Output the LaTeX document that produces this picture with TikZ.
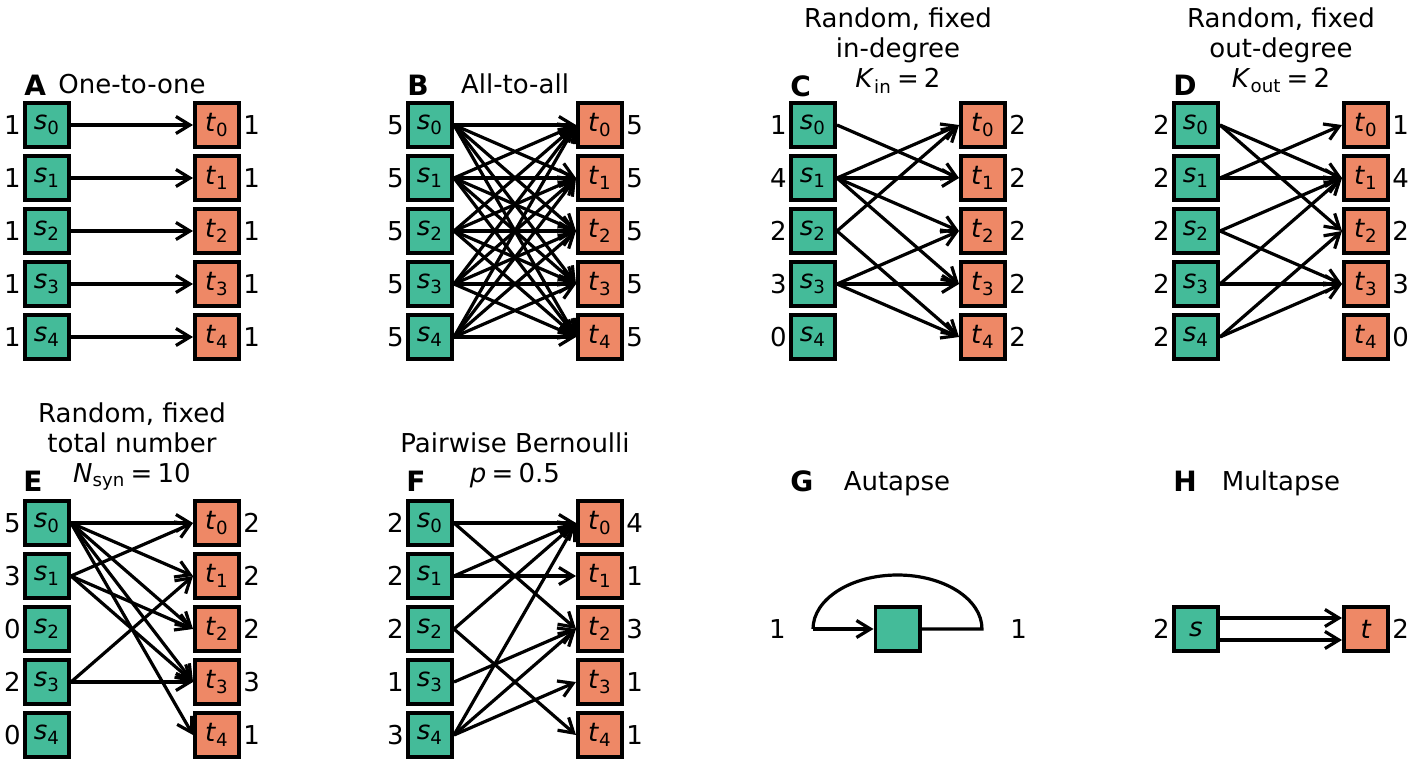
\documentclass[tikz,border=0pt]{standalone}
\usepackage{fontspec}
\setmainfont{DejaVu Sans}
\usetikzlibrary{arrows.meta,positioning}

\definecolor{srcgreen}{HTML}{44BB99}
\definecolor{tgtorange}{HTML}{EE8866}

\newcommand{\labelfont}{\fontsize{13pt}{15pt}\selectfont}
\newcommand{\eqsp}{\hspace{0.2em}=\hspace{0.2em}}

\tikzset{
  pop/.style={draw, line width=1.8pt, minimum size=22.2pt, inner sep=0pt},
  src/.style={pop, fill=srcgreen},
  tgt/.style={pop, fill=tgtorange},
  syn/.style={line width=1.6pt, -{Straight Barb[length=7pt,width=8.5pt]}},
  tally/.style={inner sep=1pt},
  letter/.style={font=\fontsize{14pt}{15pt}\selectfont\bfseries, anchor=base west, inner sep=0pt},
  title/.style={align=center, anchor=south, inner sep=0pt, text depth=0pt},
}

% sources and targets of one panel: #1 name, #2 x of sources, #3 y of first row,
% #4 out-degrees, #5 in-degrees
\newcommand{\popcolumns}[5]{%
  \foreach \n [count=\i from 0] in {#4} {
    \node[src] (s#1\i) at (#2, #3+53*\i) {\textit{s}\textsubscript{\i}};
    \node[tally, left=0pt of s#1\i] (ns#1\i) {\n};
  }
  \foreach \n [count=\i from 0] in {#5} {
    \node[tgt] (t#1\i) at (#2+170, #3+53*\i) {\textit{t}\textsubscript{\i}};
    \node[tally, right=0pt of t#1\i] (nt#1\i) {\n};
  }
}

\begin{document}
\begin{tikzpicture}[x=0.5pt, y=-0.5pt, font=\labelfont]
    \useasboundingbox (0,0) rectangle (1421,765);

    % A: one-to-one
    \node[letter] (letA) at (24,96) {A};
    \node[title] (titleA) at (132,94) {One-to-one};
    \popcolumns{A}{47}{125}{1,1,1,1,1}{1,1,1,1,1}
    \foreach \k in {0,...,4}
        \draw[syn] (sA\k.east) -- (tA\k.west);

    % B: all-to-all
    \node[letter] (letB) at (407,96) {B};
    \node[title] (titleB) at (515,94) {All-to-all};
    \popcolumns{B}{430}{125}{5,5,5,5,5}{5,5,5,5,5}
    \foreach \a in {0,...,4}
        \foreach \b in {0,...,4}
            \draw[syn] (sB\a.east) -- (tB\b.west);

    % C: fixed in-degree
    \node[letter] (letC) at (790,97) {C};
    \node[title] (titleC) at (898,88) {Random, fixed\\in-degree\\\textit{K}\textsubscript{in}\eqsp 2};
    \popcolumns{C}{813}{125}{1,4,2,3,0}{2,2,2,2,2}
    \foreach \a/\b in {0/1, 1/0, 1/1, 1/2, 1/3, 2/0, 2/4, 3/2, 3/3, 3/4}
        \draw[syn] (sC\a.east) -- (tC\b.west);

    % D: fixed out-degree
    \node[letter] (letD) at (1173,96) {D};
    \node[title] (titleD) at (1281,88) {Random, fixed\\out-degree\\\textit{K}\textsubscript{out}\eqsp 2};
    \popcolumns{D}{1196}{125}{2,2,2,2,2}{1,4,2,3,0}
    \foreach \a/\b in {0/1, 0/2, 1/0, 1/1, 2/1, 2/3, 3/1, 3/3, 4/2, 4/3}
        \draw[syn] (sD\a.east) -- (tD\b.west);

    % E: fixed total number
    \node[letter] (letE) at (23,491) {E};
    \node[title] (titleE) at (132,483) {Random, fixed\\total number\\\textit{N}\textsubscript{syn}\eqsp 10};
    \popcolumns{E}{47}{523}{5,3,0,2,0}{2,2,2,3,1}
    \foreach \a/\b in {0/0, 0/1, 0/2, 0/3, 0/4, 1/0, 1/2, 1/3, 3/1, 3/3}
        \draw[syn] (sE\a.east) -- (tE\b.west);

    % F: pairwise Bernoulli
    \node[letter] (letF) at (406,491) {F};
    \node[title] (titleF) at (515,483) {Pairwise Bernoulli\\\textit{p}\eqsp 0.5};
    \popcolumns{F}{430}{523}{2,2,2,1,3}{4,1,3,1,1}
    \foreach \a/\b in {0/0, 0/2, 1/0, 1/1, 2/0, 2/4, 3/2, 4/0, 4/2, 4/3}
        \draw[syn] (sF\a.east) -- (tF\b.west);

    % G: autapse
    \node[letter] (letG) at (790,491) {G};
    \node[title] (titleG) at (897,491) {Autapse};
    \node[src] (g) at (897.5,629) {};
    \coordinate (gin) at (813,629);
    \coordinate (gout) at (982,629);
    \draw[syn] (gin) -- (g);
    \draw[line width=1.6pt] (g) -- (gout)
        arc[start angle=0, end angle=180, x radius=42.25pt, y radius=27pt];
    \node[tally, anchor=east] (ng) at (788,629) {1};
    \node[tally, anchor=west] (mg) at (1008,629) {1};

    % H: multapse
    \node[letter] (letH) at (1173,491) {H};
    \node[title] (titleH) at (1281,491) {Multapse};
    \node[src] (hs) at (1196,629) {\textit{s}};
    \node[tgt] (ht) at (1366,629) {\textit{t}};
    \draw[syn] ([yshift=5.5pt]hs.east) -- ([yshift=5.5pt]ht.west);
    \draw[syn] ([yshift=-5.5pt]hs.east) -- ([yshift=-5.5pt]ht.west);
    \node[tally, left=0pt of hs] (nhs) {2};
    \node[tally, right=0pt of ht] (nht) {2};
\end{tikzpicture}
\end{document}
